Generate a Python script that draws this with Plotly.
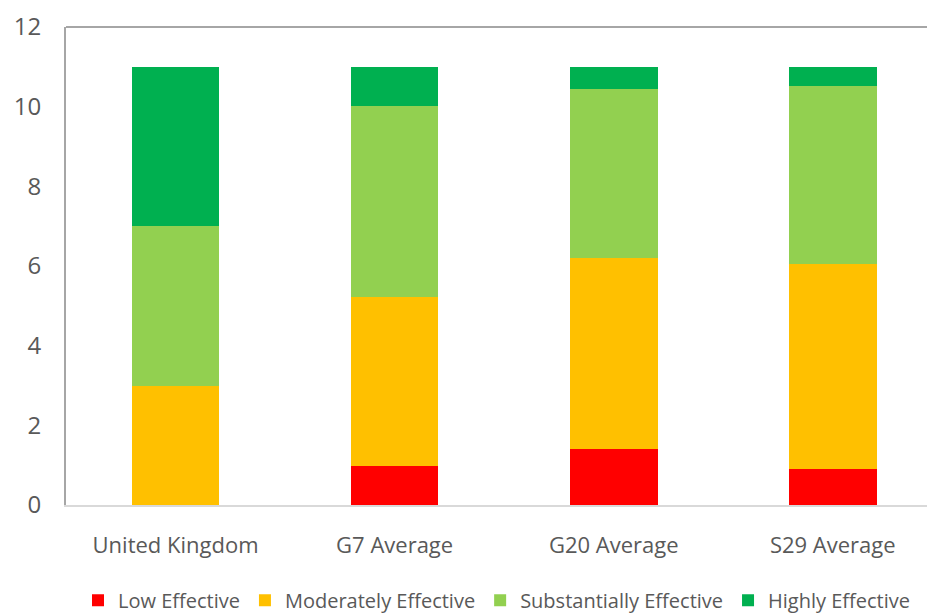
import plotly.graph_objects as go

categories = ["United Kingdom", "G7 Average", "G20 Average", "S29 Average"]
series_names = ["Low Effective", "Moderately Effective", "Substantially Effective", "Highly Effective"]
low = [0.0, 0.98, 1.41, 0.91]
moderate = [3.0, 4.25, 4.80, 5.15]
substantial = [4.0, 4.78, 4.23, 4.46]
highly = [4.0, 0.99, 0.56, 0.48]
colors = ["#FF0000", "#FFC000", "#92D050", "#00B050"]
y_ticks = [0, 2, 4, 6, 8, 10, 12]

FONT = "Open Sans, sans-serif"
fig = go.Figure()
for name, vals, col in zip(series_names, [low, moderate, substantial, highly], colors):
    fig.add_trace(go.Bar(x=categories, y=vals, name=name, marker_color=col,
                         marker_line_width=0))

fig.update_layout(
    barmode="stack",
    bargap=0.6,
    width=927, height=616,
    margin=dict(l=66, r=0, t=27, b=111, autoexpand=False),
    plot_bgcolor="white", paper_bgcolor="white",
    font=dict(family=FONT, color="#595959"),
    showlegend=True,
    legend=dict(orientation="h", x=0.50, xanchor="center", y=-0.24, yanchor="bottom",
                font=dict(size=20, family=FONT, color="#595959"),
                itemwidth=30, traceorder="normal", tracegroupgap=0),
    xaxis=dict(range=[-0.5, 3.43], showline=True, linecolor="#D9D9D9", linewidth=2,
               ticks="", tickfont=dict(size=22, color="#595959"), ticklabelstandoff=20),
    yaxis=dict(range=[0, 12], tickvals=y_ticks, showgrid=False, showline=True,
               linecolor="#A6A6A6", linewidth=2, ticks="", zeroline=False,
               tickfont=dict(size=24, color="#595959"), ticklabelstandoff=18),
    shapes=[dict(type="line", xref="paper", yref="paper", x0=0, x1=1, y0=1, y1=1,
                 line=dict(color="#A6A6A6", width=2))],
)
fig.write_html("out.html")
